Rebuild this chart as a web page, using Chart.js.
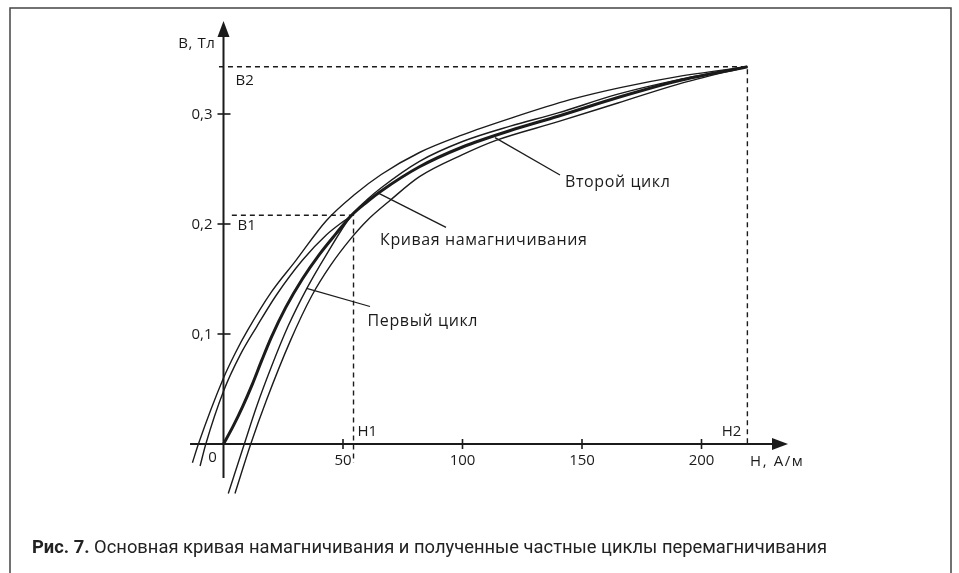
<!DOCTYPE html>
<html>
<head>
<meta charset="utf-8">
<script src="https://cdn.jsdelivr.net/npm/chart.js@4.4.1/dist/chart.umd.min.js"></script>
<style>
  html,body{margin:0;padding:0;background:#fff;}
  #wrap{width:959px;height:573px;position:relative;}
</style>
</head>
<body>
<div id="wrap"><canvas id="c" width="959" height="573"></canvas></div>
<script>
// ---- data (H in A/m, B in T) ----
const H_MAIN = [0, 4, 8, 12, 16, 20, 26, 33, 40, 47, 53.6, 60, 66, 82, 100, 120, 140, 165, 190, 219.2];
const B_MAIN = [0, 0.016, 0.034, 0.054, 0.076, 0.097, 0.124, 0.15, 0.172, 0.191, 0.208, 0.22, 0.23, 0.252, 0.27, 0.285, 0.298, 0.315, 0.33, 0.343];

const H_CYC1_UP = [-9.8, -7.4, 0, 7, 14, 22, 33, 43, 53.6];
const B_CYC1_UP = [-0.02, 0, 0.048, 0.081, 0.107, 0.135, 0.167, 0.19, 0.208];

const H_CYC1_LO = [2, 8.7, 14, 20, 27, 35, 43, 53.6, 60, 66, 82, 100, 120, 140, 165, 190, 219.2];
const B_CYC1_LO = [-0.045, 0, 0.035, 0.07, 0.107, 0.142, 0.172, 0.208, 0.222, 0.233, 0.257, 0.275, 0.289, 0.301, 0.318, 0.331, 0.343];

const H_CYC2_UP = [-13, -10.5, 0, 5, 10, 20, 30, 43, 55, 66, 82, 100, 120, 145, 166, 190, 219.2];
const B_CYC2_UP = [-0.017, 0, 0.06, 0.083, 0.103, 0.138, 0.166, 0.203, 0.227, 0.245, 0.265, 0.281, 0.296, 0.313, 0.324, 0.334, 0.343];

const H_CYC2_LO = [4.8, 11.4, 18, 28, 37, 45, 53, 60, 70, 82, 100, 114, 140, 165, 190, 219.2];
const B_CYC2_LO = [-0.045, 0, 0.04, 0.094, 0.135, 0.163, 0.186, 0.203, 0.222, 0.243, 0.263, 0.276, 0.293, 0.31, 0.327, 0.343];

const X_TICKS = [50, 100, 150, 200];
const Y_TICKS = [0.1, 0.2, 0.3];
const H1 = 54.4, B1 = 0.208;
const H2 = 219.2, B2 = 0.343;

const X_TITLE = 'H, А/м';
const Y_TITLE = 'B, Тл';
const LABEL_FIRST = 'Первый цикл';
const LABEL_MAIN = 'Кривая намагничивания';
const LABEL_SECOND = 'Второй цикл';
const CAPTION_BOLD = 'Рис. 7.';
const CAPTION_TEXT = ' Основная кривая намагничивания и полученные частные циклы перемагничивания';

function pts(hs, bs){ return hs.map((h,i)=>({x:h, y:bs[i]})); }

const INK = '#1b1b1b';
const FONT = '"Open Sans", "DejaVu Sans", sans-serif';

const overlay = {
  id: 'overlay',
  afterDatasetsDraw(chart){
    const ctx = chart.ctx, xs = chart.scales.x, ys = chart.scales.y;
    const px = v => xs.getPixelForValue(v), py = v => ys.getPixelForValue(v);
    const x0 = px(0), y0 = py(0);
    ctx.save();
    // frame
    ctx.strokeStyle = '#444'; ctx.lineWidth = 1.5;
    ctx.beginPath(); ctx.moveTo(10, 600); ctx.lineTo(10, 8); ctx.lineTo(951, 8); ctx.lineTo(951, 600); ctx.stroke();

    // dashed guides
    ctx.strokeStyle = INK; ctx.lineWidth = 1.4; ctx.setLineDash([5,4]);
    ctx.beginPath(); ctx.moveTo(px(-1.9), py(B2)); ctx.lineTo(px(H2), py(B2)); ctx.lineTo(px(H2), py(-0.003)); ctx.stroke();
    ctx.beginPath(); ctx.moveTo(px(3.5), py(B1)); ctx.lineTo(px(H1), py(B1)); ctx.lineTo(px(H1), py(-0.017)); ctx.stroke();
    ctx.setLineDash([]);

    // axes
    ctx.strokeStyle = INK; ctx.fillStyle = INK; ctx.lineWidth = 2;
    ctx.beginPath(); ctx.moveTo(x0, py(-0.031)); ctx.lineTo(x0, py(0.37)); ctx.stroke();
    ctx.beginPath(); ctx.moveTo(px(-14), y0); ctx.lineTo(px(230), y0); ctx.stroke();
    // arrows
    const yt = py(0.3845);
    ctx.beginPath(); ctx.moveTo(x0, yt); ctx.lineTo(x0-6, yt+16); ctx.lineTo(x0+6, yt+16); ctx.closePath(); ctx.fill();
    const xt = px(236.2);
    ctx.beginPath(); ctx.moveTo(xt, y0); ctx.lineTo(xt-16, y0-6); ctx.lineTo(xt-16, y0+6); ctx.closePath(); ctx.fill();

    // ticks
    ctx.lineWidth = 1.6;
    X_TICKS.forEach(t=>{ ctx.beginPath(); ctx.moveTo(px(t), y0-5); ctx.lineTo(px(t), y0+5); ctx.stroke(); });
    Y_TICKS.forEach(t=>{ ctx.beginPath(); ctx.moveTo(x0-6, py(t)); ctx.lineTo(x0+7, py(t)); ctx.stroke(); });

    // tick labels
    ctx.font = '15px ' + FONT; ctx.fillStyle = INK;
    ctx.textBaseline = 'middle';
    ctx.textAlign = 'center';
    X_TICKS.forEach(t=> ctx.fillText(String(t), px(t), y0+17));
    ctx.fillText('0', x0-11, y0+14);
    ctx.textAlign = 'right';
    Y_TICKS.forEach(t=> ctx.fillText(t.toFixed(1).replace('.', ','), x0-11, py(t)+1));
    ctx.fillText('B1', 0, -100); // warm-up (off-canvas)
    ctx.letterSpacing = '0.6px';
    ctx.fillText(Y_TITLE, x0-8, py(0.3636));
    ctx.textAlign = 'left';
    ctx.letterSpacing = '1.6px';
    ctx.fillText(X_TITLE, xt-38, y0+18);
    ctx.letterSpacing = '0px';
    ctx.fillText('B1', x0+14, py(B1)+11);
    ctx.fillText('B2', x0+12, py(B2)+14);
    ctx.fillText('H1', px(H1)+4, y0-12);
    ctx.textAlign = 'right';
    ctx.fillText('H2', px(H2)-6, y0-12);

    // pointers and labels
    ctx.lineWidth = 1.3;
    const ptr = (h1,b1,h2,b2)=>{ ctx.beginPath(); ctx.moveTo(px(h1),py(b1)); ctx.lineTo(px(h2),py(b2)); ctx.stroke(); };
    ptr(34.8, 0.1415, 61.3, 0.125);
    ptr(64.8, 0.228, 93.1, 0.197);
    ptr(113.6, 0.2785, 140.8, 0.2445);
    ctx.textAlign = 'left';
    ctx.font = '16px ' + FONT;
    ctx.letterSpacing = '0.6px';
    ctx.fillText(LABEL_FIRST, px(60.3), py(0.111));
    ctx.fillText(LABEL_MAIN, px(65.5), py(0.1855));
    ctx.fillText(LABEL_SECOND, px(142.9), py(0.2375));
    ctx.letterSpacing = '0px';

    // caption
    ctx.textBaseline = 'alphabetic';
    ctx.font = 'bold 19px Roboto, sans-serif';
    const wb = ctx.measureText(CAPTION_BOLD).width;
    ctx.font = '19px Roboto, sans-serif';
    const wr = ctx.measureText(CAPTION_TEXT).width;
    const sx = 795 / (wb + wr);
    ctx.translate(32, 553); ctx.scale(sx, 1);
    ctx.fillStyle = '#222';
    ctx.font = 'bold 19px Roboto, sans-serif';
    ctx.fillText(CAPTION_BOLD, 0, 0);
    ctx.font = '19px Roboto, sans-serif';
    ctx.fillText(CAPTION_TEXT, wb, 0);
    ctx.restore();
  }
};

const thin = {borderColor: INK, borderWidth: 1.4, pointRadius: 0, showLine: true, cubicInterpolationMode: 'monotone', clip: false};
new Chart(document.getElementById('c'), {
  type: 'scatter',
  data: { datasets: [
    Object.assign({label: 'Второй цикл (верх)', data: pts(H_CYC2_UP, B_CYC2_UP)}, thin),
    Object.assign({label: 'Второй цикл (низ)', data: pts(H_CYC2_LO, B_CYC2_LO)}, thin),
    Object.assign({label: 'Первый цикл (верх)', data: pts(H_CYC1_UP, B_CYC1_UP)}, thin),
    Object.assign({label: 'Первый цикл (низ)', data: pts(H_CYC1_LO, B_CYC1_LO)}, thin),
    Object.assign({}, thin, {label: 'Кривая намагничивания', data: pts(H_MAIN, B_MAIN), borderWidth: 3})
  ]},
  options: {
    responsive: false, animation: false, devicePixelRatio: 1,
    layout: {padding: {left: 187.65, right: 173.85, top: 26, bottom: 74}},
    plugins: {legend: {display: false}, tooltip: {enabled: false}},
    scales: {
      x: {type: 'linear', min: -15, max: 235, display: false},
      y: {type: 'linear', min: -0.05, max: 0.38, display: false}
    }
  },
  plugins: [overlay]
});
</script>
</body>
</html>
